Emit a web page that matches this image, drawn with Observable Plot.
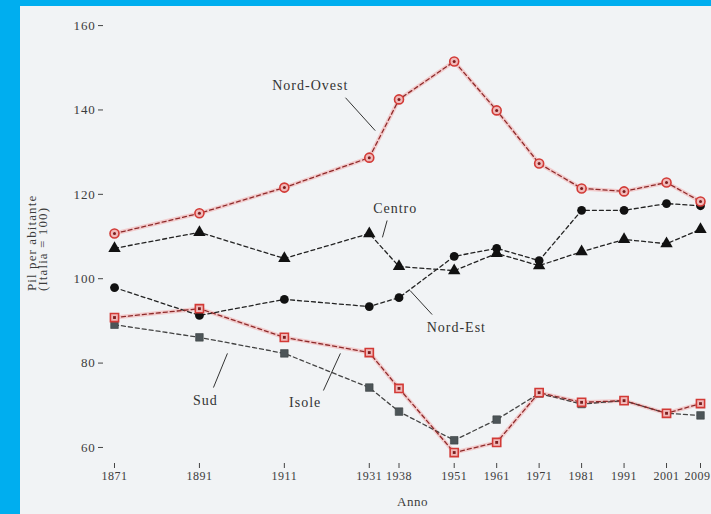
<!DOCTYPE html>
<html><head><meta charset="utf-8">
<script src="https://cdn.jsdelivr.net/npm/d3@7"></script>
<script src="https://cdn.jsdelivr.net/npm/@observablehq/plot@0.6"></script>
<style>
html,body{margin:0;padding:0;background:#00aeef;width:711px;height:514px;overflow:hidden;}
#panel{position:absolute;left:20px;top:6px;width:691px;height:508px;background:#f1f3f5;}
#chart{position:absolute;left:0;top:0;}
#chart svg text{letter-spacing:0.5px;}
#chart svg .lab text{letter-spacing:1px;}
#chart svg .ytitle text{letter-spacing:1.1px;}
#chart svg .yt text{letter-spacing:0.8px;}
</style></head><body><div id="panel"></div><div id="chart"></div>
<script>
// ---- data ----
const years = [1871,1891,1911,1931,1938,1951,1961,1971,1981,1991,2001,2009];
const nordOvest = [110.7,115.5,121.6,128.7,142.5,151.5,139.9,127.3,121.4,120.7,122.8,118.3];
const centro    = [107.2,111.0,104.8,110.7,102.9,101.9,106.0,103.1,106.4,109.3,108.3,111.7];
const nordEst   = [97.9,91.3,95.1,93.4,95.5,105.3,107.2,104.3,116.2,116.2,117.8,117.3];
const isole     = [90.8,92.9,86.1,82.5,74.0,58.8,61.2,73.0,70.7,71.1,68.1,70.4];
const sud       = [89.1,86.1,82.3,74.2,68.5,61.7,66.6,72.8,70.3,71.1,68.1,67.6];
const yTicks = [60,80,100,120,140,160];
// series labels (data coordinates) and their leader lines
const labelNames = ["Nord-Ovest","Centro","Nord-Est","Sud","Isole"];
const labelYear  = [1917.1,1937.1,1951.5,1892.4,1915.9];
const labelValue = [145.8,116.6,88.4,71.1,70.7];
const leadYear1  = [1925.4,1935.2,1940.6,1894.3,1920.2];
const leadVal1   = [142.9,113.8,97.2,74.2,73.5];
const leadYear2  = [1932.4,1934.1,1945.8,1897.6,1924.2];
const leadVal2   = [135.1,109.8,91.5,82.3,82.3];

const table = (vals) => years.map((year, i) => ({year, value: vals[i]}));
const NO = table(nordOvest), CE = table(centro), NE = table(nordEst), IS = table(isole), SU = table(sud);
const labels = labelNames.map((name, i) => ({name, year: labelYear[i], value: labelValue[i]}));
const leaders = labelNames.map((name, i) => ({x1: leadYear1[i], y1: leadVal1[i], x2: leadYear2[i], y2: leadVal2[i]}));
const lastYear = years[years.length - 1];
const innerYears = years.slice(0, -1);

const font = "Liberation Serif, DejaVu Serif, serif";
const xy = {x: "year", y: "value"};
const dash = "4,3";
const txt = "#3c3c3c";

const chart = Plot.plot({
  width: 711, height: 514,
  marginLeft: 103, marginRight: 0, marginTop: 12, marginBottom: 51,
  style: {background: "transparent", fontFamily: font, color: txt},
  x: {domain: [1868.41, 2011.59]},
  y: {domain: [56.2, 163.1]},
  marks: [
    Plot.axisX({ticks: years, tickSize: 5, text: null, label: null, line: true, stroke: "#444"}),
    Plot.text(innerYears, {x: d => d, frameAnchor: "bottom", lineAnchor: "top", dy: 8, fontSize: 12, fill: txt, text: d => String(d)}),
    Plot.text([lastYear], {x: d => d, frameAnchor: "bottom", lineAnchor: "top", textAnchor: "end", dy: 8, dx: 10, fontSize: 12, fill: txt, text: d => String(d)}),
    Plot.axisY({ticks: yTicks, tickSize: 5, tickPadding: 3, fontSize: 13, label: null, line: true, stroke: "#444", className: "yt"}),
    Plot.text(["Pil per abitante\n(Italia = 100)"], {frameAnchor: "left", rotate: -90, dx: -66, dy: 53, fontSize: 13, lineHeight: 0.85, fill: txt, className: "ytitle"}),
    Plot.text(["Anno"], {frameAnchor: "bottom", dx: 5, dy: 42, fontSize: 13, fill: txt}),
    // red glows
    Plot.line(NO, {...xy, stroke: "#f3a3a3", strokeWidth: 4, strokeOpacity: 0.5}),
    Plot.line(IS, {...xy, stroke: "#f3a3a3", strokeWidth: 4, strokeOpacity: 0.5}),
    // dashed lines
    Plot.line(SU, {...xy, stroke: "#444", strokeWidth: 1.3, strokeDasharray: dash}),
    Plot.line(CE, {...xy, stroke: "#222", strokeWidth: 1.3, strokeDasharray: dash}),
    Plot.line(NE, {...xy, stroke: "#222", strokeWidth: 1.3, strokeDasharray: dash}),
    Plot.line(IS, {...xy, stroke: "#8e2a2a", strokeWidth: 1.3, strokeDasharray: dash}),
    Plot.line(NO, {...xy, stroke: "#8e2a2a", strokeWidth: 1.3, strokeDasharray: dash}),
    // markers
    Plot.dot(SU, {...xy, symbol: "square", r: 4.3, fill: "#4d5558", stroke: "#3a3f42", strokeWidth: 0.6}),
    Plot.dot(CE, {...xy, symbol: "triangle", r: 4.6, fill: "#111", stroke: "none"}),
    Plot.dot(NE, {...xy, symbol: "circle", r: 4.4, fill: "#111", stroke: "none"}),
    Plot.dot(IS, {...xy, symbol: "square", r: 4.6, fill: "#f0b9b9", stroke: "#d23a36", strokeWidth: 1.6}),
    Plot.dot(IS, {...xy, symbol: "square", r: 1.6, fill: "#7a1d1d", stroke: "none"}),
    Plot.dot(NO, {...xy, symbol: "circle", r: 4.5, fill: "#f0b9b9", stroke: "#d23a36", strokeWidth: 1.6}),
    Plot.dot(NO, {...xy, symbol: "circle", r: 1.5, fill: "#7a1d1d", stroke: "none"}),
    // annotations
    Plot.link(leaders, {x1: "x1", y1: "y1", x2: "x2", y2: "y2", stroke: "#333", strokeWidth: 1}),
    Plot.text(labels, {x: "year", y: "value", text: "name", fontSize: 14, fill: "#333", className: "lab"})
  ]
});
document.getElementById("chart").appendChild(chart);
</script></body></html>
